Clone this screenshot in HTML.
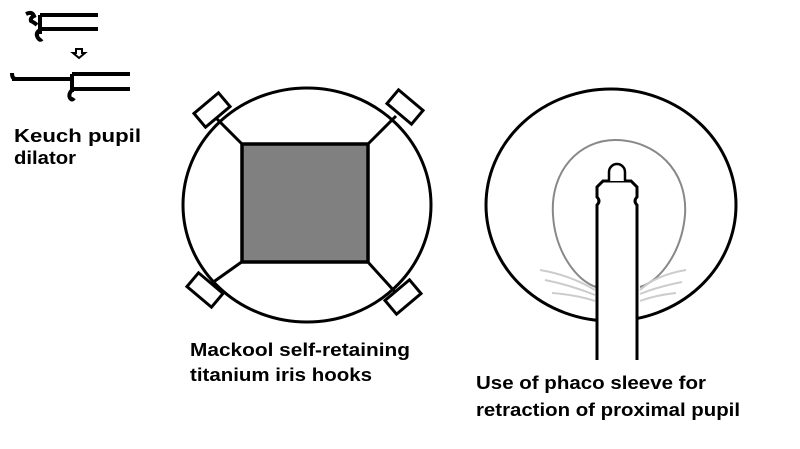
<!DOCTYPE html>
<html><head><style>body{margin:0;background:#fff}svg{display:block}</style></head><body>
<svg width="800" height="449" viewBox="0 0 800 449" xmlns="http://www.w3.org/2000/svg">
<g font-family="Liberation Sans, sans-serif" font-weight="bold" font-size="18" fill="#000">
<text x="14" y="142" textLength="127" lengthAdjust="spacingAndGlyphs">Keuch pupil</text>
<text x="14" y="164" textLength="62" lengthAdjust="spacingAndGlyphs">dilator</text>
<text x="190" y="356" textLength="220" lengthAdjust="spacingAndGlyphs">Mackool self-retaining</text>
<text x="190" y="381" textLength="182" lengthAdjust="spacingAndGlyphs">titanium iris hooks</text>
<text x="476" y="389" textLength="230" lengthAdjust="spacingAndGlyphs">Use of phaco sleeve for</text>
<text x="476" y="416" textLength="264" lengthAdjust="spacingAndGlyphs">retraction of proximal pupil</text>
</g>
<!-- Keuch dilator -->
<g stroke="#000" stroke-width="4" fill="none">
<line x1="40" y1="15" x2="98" y2="15"/><line x1="40" y1="29" x2="98" y2="29"/>
<line x1="40" y1="15" x2="40" y2="34"/>
<path d="M26 14 q6 -3 8 2 q-4 2 -3 5 q4 2 6 4"/>
<path d="M40 30 q-5 3 -2 8 q2 3 4 1"/>
<line x1="12" y1="79" x2="72" y2="79"/>
<path d="M12 73 q0 6 4 6"/>
<line x1="72" y1="74" x2="130" y2="74"/><line x1="72" y1="89" x2="130" y2="89"/>
<line x1="72" y1="74" x2="72" y2="92"/>
<path d="M72 90 q-4 4 -2 8 q2 3 4 0"/>
<path d="M76 49 h6 v4 h3 l-6 5 l-6 -5 h3 z" stroke-width="2"/>
</g>
<!-- Mackool -->
<g stroke="#000" fill="none">
<ellipse cx="307" cy="205" rx="124" ry="117" stroke-width="3"/>
<rect x="242" y="144" width="126" height="118" fill="#808080" stroke-width="3.5"/>
<g stroke-width="3">
<line x1="243" y1="145" x2="214" y2="116"/><line x1="367" y1="145" x2="396" y2="116"/>
<line x1="243" y1="261" x2="212" y2="283"/><line x1="367" y1="261" x2="396" y2="293"/>
</g>
<g stroke-width="3" fill="#fff">
<rect x="-16" y="-9" width="32" height="18" transform="translate(212,110) rotate(-40)"/>
<rect x="-16" y="-9" width="32" height="18" transform="translate(405,107) rotate(40)"/>
<rect x="-16" y="-9" width="32" height="18" transform="translate(205,290) rotate(40)"/>
<rect x="-16" y="-9" width="32" height="18" transform="translate(403,297) rotate(-40)"/>
</g>
</g>
<!-- Phaco -->
<g fill="none">
<ellipse cx="611" cy="205" rx="125" ry="116" stroke="#000" stroke-width="3"/>
<path d="M596 287 C575 280 555 250 553 215 C550 170 580 140 615 140 C655 140 688 170 685 215 C682 250 662 280 640 287" stroke="#888" stroke-width="2"/>
<g stroke="#ccc" stroke-width="2">
<path d="M540 270 q30 5 55 20"/><path d="M545 280 q25 5 50 15"/><path d="M552 293 q25 2 43 8"/>
<path d="M686 270 q-30 5 -46 20"/><path d="M682 282 q-25 5 -42 12"/><path d="M676 293 q-20 2 -36 8"/>
</g>
<path d="M597 360 V205 q4 -4 0 -8 V187 l6 -6 h28 l6 6 v10 q-4 4 0 8 V360" fill="#fff" stroke="#000" stroke-width="3"/>
<path d="M609 181 v-9 a8 8 0 0 1 16 0 v9" fill="#fff" stroke="#000" stroke-width="2.5"/>
</g>
</svg>
</body></html>
